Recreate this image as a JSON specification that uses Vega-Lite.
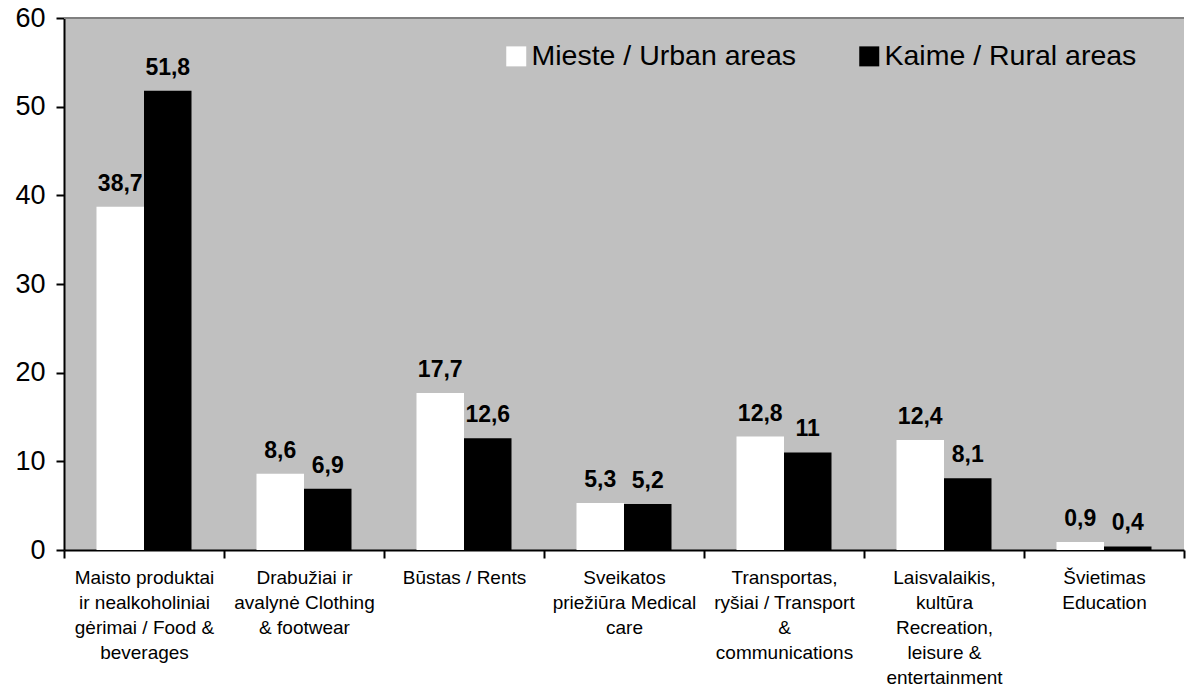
{
  "$schema": "https://vega.github.io/schema/vega-lite/v6.json",
  "width": 1120,
  "height": 532,
  "autosize": {"type": "none"},
  "padding": {"left": 64, "top": 18, "right": 2, "bottom": 138},
  "background": "white",
  "config": {
    "view": {"fill": "#c0c0c0", "stroke": null},
    "font": "Liberation Sans",
    "locale": {"number": {"decimal": ",", "thousands": " ", "grouping": [3], "currency": ["", ""]}}
  },
  "data": {
    "values": [
      {"category": "Maisto produktai|ir nealkoholiniai|gėrimai / Food &|beverages", "area": "Mieste / Urban areas", "value": 38.7},
      {"category": "Maisto produktai|ir nealkoholiniai|gėrimai / Food &|beverages", "area": "Kaime / Rural areas", "value": 51.8},
      {"category": "Drabužiai ir|avalynė  Clothing|& footwear", "area": "Mieste / Urban areas", "value": 8.6},
      {"category": "Drabužiai ir|avalynė  Clothing|& footwear", "area": "Kaime / Rural areas", "value": 6.9},
      {"category": "Būstas / Rents", "area": "Mieste / Urban areas", "value": 17.7},
      {"category": "Būstas / Rents", "area": "Kaime / Rural areas", "value": 12.6},
      {"category": "Sveikatos|priežiūra  Medical|care", "area": "Mieste / Urban areas", "value": 5.3},
      {"category": "Sveikatos|priežiūra  Medical|care", "area": "Kaime / Rural areas", "value": 5.2},
      {"category": "Transportas,|ryšiai / Transport|&|communications", "area": "Mieste / Urban areas", "value": 12.8},
      {"category": "Transportas,|ryšiai / Transport|&|communications", "area": "Kaime / Rural areas", "value": 11},
      {"category": "Laisvalaikis,|kultūra|Recreation,|leisure &|entertainment", "area": "Mieste / Urban areas", "value": 12.4},
      {"category": "Laisvalaikis,|kultūra|Recreation,|leisure &|entertainment", "area": "Kaime / Rural areas", "value": 8.1},
      {"category": "Švietimas|Education", "area": "Mieste / Urban areas", "value": 0.9},
      {"category": "Švietimas|Education", "area": "Kaime / Rural areas", "value": 0.4}
    ]
  },
  "layer": [
    {
      "mark": {"type": "rule", "color": "#808080", "strokeWidth": 1.5},
      "encoding": {"y": {"datum": 60, "type": "quantitative", "scale": {"domain": [0, 60], "nice": false}}}
    },
    {
      "mark": {"type": "bar"},
      "encoding": {
        "x": {
          "field": "category", "type": "nominal", "sort": null,
          "scale": {"paddingInner": 0, "paddingOuter": 0},
          "axis": {
            "title": null, "labelAngle": 0, "labelExpr": "split(datum.label, '|')",
            "labelFontSize": 19, "labelLineHeight": 25, "labelColor": "black",
            "labelPadding": 10, "labelLimit": 300, "tickBand": "extent", "tickSize": 8,
            "tickWidth": 2, "tickColor": "black", "domainColor": "black", "domainWidth": 2,
            "labelBaseline": "top"
          }
        },
        "xOffset": {"field": "area", "type": "nominal", "sort": null,
          "scale": {"domain": ["Mieste / Urban areas", "Kaime / Rural areas"], "paddingInner": 0, "paddingOuter": 0.684}},
        "y": {
          "field": "value", "type": "quantitative",
          "scale": {"domain": [0, 60], "nice": false},
          "axis": {
            "title": null, "values": [0, 10, 20, 30, 40, 50, 60], "grid": false,
            "domainColor": "black", "domainWidth": 2, "tickColor": "black", "tickWidth": 2,
            "tickSize": 8, "labelFontSize": 27, "labelColor": "black", "labelPadding": 11
          }
        },
        "color": {
          "field": "area", "type": "nominal",
          "scale": {"domain": ["Mieste / Urban areas", "Kaime / Rural areas"], "range": ["white", "black"]},
          "legend": {
            "orient": "none", "legendX": 438, "legendY": 24, "direction": "horizontal",
            "title": null, "symbolType": "square", "symbolSize": 400, "symbolStrokeWidth": 0,
            "symbolOpacity": 1, "labelFontSize": 28.5, "labelOffset": 1, "columnPadding": 58,
            "labelColor": "black", "labelLimit": 400
          }
        }
      }
    },
    {
      "mark": {"type": "text", "fontWeight": "bold", "fontSize": 23, "dy": -16, "baseline": "alphabetic", "color": "black"},
      "encoding": {
        "x": {"field": "category", "type": "nominal", "sort": null},
        "xOffset": {"field": "area", "type": "nominal", "sort": null,
          "scale": {"domain": ["Mieste / Urban areas", "Kaime / Rural areas"]}},
        "y": {"field": "value", "type": "quantitative"},
        "text": {"field": "value", "type": "quantitative", "format": ".1~f"}
      }
    }
  ]
}
